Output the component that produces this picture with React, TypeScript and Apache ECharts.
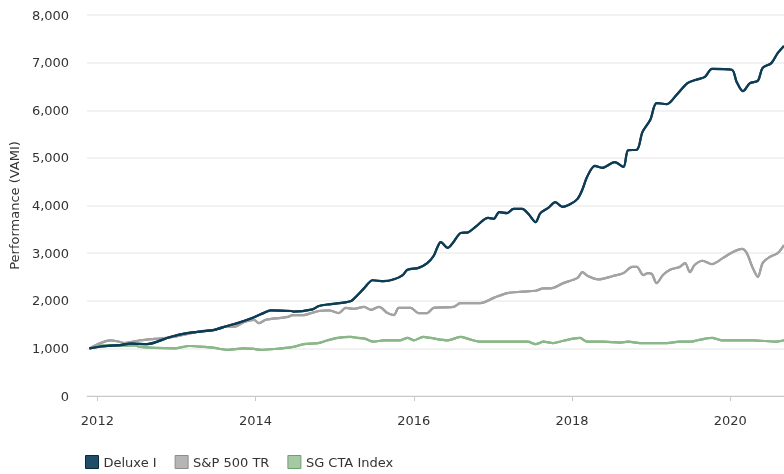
import React, { useEffect, useRef } from "react";
import * as echarts from "echarts";

const seriesNames = ["Deluxe I", "S&P 500 TR", "SG CTA Index"];
const yearTicks = [2012, 2014, 2016, 2018, 2020];

// [decimal year, VAMI]
const deluxe: [number, number][] = [
  [2011.9, 1000], [2012.05, 1040], [2012.29, 1070], [2012.42, 1100], [2012.63, 1090],
  [2012.92, 1240], [2013.13, 1320], [2013.48, 1390], [2013.64, 1470], [2013.77, 1530],
  [2013.93, 1620], [2014.1, 1740], [2014.19, 1800], [2014.45, 1785], [2014.48, 1770],
  [2014.72, 1820], [2014.8, 1890], [2014.95, 1930], [2015.2, 1990], [2015.29, 2120],
  [2015.37, 2260], [2015.48, 2430], [2015.62, 2410], [2015.75, 2450], [2015.86, 2540],
  [2015.92, 2650], [2016.06, 2690], [2016.17, 2790], [2016.25, 2940], [2016.3, 3130],
  [2016.34, 3230], [2016.43, 3110], [2016.5, 3230], [2016.59, 3420], [2016.69, 3440],
  [2016.78, 3550], [2016.94, 3740], [2017.01, 3720], [2017.08, 3860], [2017.18, 3840],
  [2017.26, 3930], [2017.37, 3930], [2017.45, 3820], [2017.54, 3650], [2017.6, 3840],
  [2017.7, 3950], [2017.79, 4070], [2017.88, 3970], [2017.98, 4030], [2018.07, 4140],
  [2018.13, 4330], [2018.19, 4600], [2018.29, 4830], [2018.38, 4790], [2018.54, 4910],
  [2018.65, 4810], [2018.71, 5160], [2018.82, 5170], [2018.89, 5540], [2018.99, 5800],
  [2019.07, 6150], [2019.2, 6130], [2019.32, 6320], [2019.46, 6570], [2019.57, 6640],
  [2019.68, 6700], [2019.77, 6870], [2020.02, 6850], [2020.08, 6600], [2020.16, 6400],
  [2020.25, 6570], [2020.35, 6620], [2020.41, 6890], [2020.52, 6990], [2020.6, 7200],
  [2020.68, 7350],
];

const sp500: [number, number][] = [
  [2011.9, 1000], [2012.04, 1110], [2012.16, 1170], [2012.25, 1150], [2012.34, 1110],
  [2012.42, 1130], [2012.54, 1170], [2012.72, 1200], [2012.88, 1220], [2013.13, 1300],
  [2013.35, 1370], [2013.48, 1390], [2013.6, 1450], [2013.73, 1450], [2013.85, 1550],
  [2013.98, 1600], [2014.04, 1530], [2014.13, 1600], [2014.32, 1640], [2014.41, 1660],
  [2014.47, 1700], [2014.61, 1700], [2014.7, 1740], [2014.82, 1790], [2014.93, 1800],
  [2015.05, 1740], [2015.14, 1850], [2015.24, 1830], [2015.37, 1870], [2015.46, 1810],
  [2015.56, 1870], [2015.67, 1740], [2015.75, 1700], [2015.81, 1850], [2015.96, 1850],
  [2016.06, 1740], [2016.17, 1740], [2016.25, 1850], [2016.5, 1870], [2016.59, 1950],
  [2016.84, 1950], [2017.01, 2060], [2017.18, 2160], [2017.37, 2190], [2017.54, 2210],
  [2017.64, 2260], [2017.73, 2260], [2017.89, 2370], [2018.07, 2480], [2018.13, 2600],
  [2018.2, 2520], [2018.33, 2450], [2018.52, 2520], [2018.65, 2580], [2018.76, 2710],
  [2018.82, 2710], [2018.9, 2540], [2018.96, 2580], [2019.01, 2560], [2019.07, 2370],
  [2019.15, 2540], [2019.24, 2650], [2019.36, 2710], [2019.43, 2790], [2019.49, 2600],
  [2019.55, 2750], [2019.65, 2840], [2019.77, 2770], [2019.91, 2900], [2020.03, 3020],
  [2020.15, 3090], [2020.21, 3000], [2020.28, 2710], [2020.35, 2500], [2020.41, 2790],
  [2020.5, 2920], [2020.6, 3000], [2020.68, 3170],
];

const sgCta: [number, number][] = [
  [2011.9, 1000], [2012.13, 1070], [2012.34, 1050], [2012.47, 1060], [2012.54, 1030],
  [2012.72, 1010], [2012.97, 1000], [2013.17, 1050], [2013.35, 1030], [2013.48, 1010],
  [2013.64, 970], [2013.85, 1000], [2013.98, 990], [2014.06, 970], [2014.32, 1000],
  [2014.48, 1030], [2014.61, 1090], [2014.79, 1110], [2014.91, 1170], [2015.04, 1220],
  [2015.2, 1240], [2015.29, 1220], [2015.39, 1200], [2015.49, 1140], [2015.62, 1170],
  [2015.83, 1170], [2015.92, 1220], [2016.0, 1170], [2016.12, 1240], [2016.21, 1220],
  [2016.43, 1170], [2016.59, 1240], [2016.69, 1200], [2016.84, 1140], [2017.13, 1140],
  [2017.44, 1140], [2017.54, 1090], [2017.64, 1140], [2017.76, 1110], [2017.89, 1160],
  [2018.1, 1220], [2018.19, 1140], [2018.39, 1140], [2018.61, 1120], [2018.71, 1140],
  [2018.86, 1110], [2019.2, 1110], [2019.36, 1140], [2019.49, 1140], [2019.59, 1170],
  [2019.77, 1220], [2019.89, 1170], [2020.28, 1170], [2020.59, 1140], [2020.68, 1170],
];

const colors = ["#0f3d57", "#a3a3a3", "#8ab889"];
const borderColors = ["#0a2a3c", "#8c8c8c", "#6f9f6e"];
const legendFill = ["#1f4f68", "#b5b5b5", "#a6c8a4"];

const FONT = "Verdana, 'DejaVu Sans', sans-serif";

export default function App() {
  const ref = useRef<HTMLDivElement>(null);
  useEffect(() => {
    if (!ref.current) return;
    const chart = echarts.init(ref.current, undefined, { renderer: "svg" });
    const dataSets = [deluxe, sp500, sgCta];
    chart.setOption({
      animation: false,
      textStyle: { fontFamily: FONT },
      grid: { left: 86, right: 0, top: 15, bottom: 78 },
      legend: {
        left: 85,
        bottom: 5,
        padding: 0,
        itemWidth: 13,
        itemHeight: 13,
        itemGap: 18,
        icon: "rect",
        textStyle: { fontFamily: FONT, fontSize: 13, color: "#333" },
        data: seriesNames.map((n, i) => ({
          name: n,
          itemStyle: { color: legendFill[i], borderColor: borderColors[i], borderWidth: 1 },
        })),
      },
      xAxis: {
        type: "value",
        min: 2011.87,
        max: 2020.68,
        splitLine: { show: false },
        axisLine: { lineStyle: { color: "#c8c8c8" } },
        axisTick: { show: true, length: 5, lineStyle: { color: "#c8c8c8" }, customValues: yearTicks },
        axisLabel: {
          customValues: yearTicks,
          formatter: (v: number) => String(Math.round(v)),
          fontFamily: FONT,
          fontSize: 13,
          color: "#333",
          margin: 18,
        },
      },
      yAxis: {
        type: "value",
        min: 0,
        max: 8000,
        interval: 1000,
        name: "Performance (VAMI)",
        nameLocation: "middle",
        nameGap: 60,
        nameTextStyle: { fontFamily: FONT, fontSize: 13, color: "#333" },
        axisLine: { show: false },
        axisTick: { show: false },
        splitLine: { lineStyle: { color: "#eeeeee", width: 1.5 } },
        axisLabel: {
          fontFamily: FONT,
          fontSize: 13,
          color: "#333",
          margin: 18,
          formatter: (v: number) => v.toLocaleString("en-US"),
        },
      },
      series: seriesNames.map((n, i) => ({
        name: n,
        type: "line",
        data: dataSets[i],
        showSymbol: false,
        smooth: 0.3,
        color: legendFill[i],
        z: 3 - i,
        lineStyle: {
          color: colors[i],
          width: 2.2,
          shadowColor: borderColors[i],
          shadowBlur: 1.5,
        },
      })),
    });
    return () => chart.dispose();
  }, []);
  return (
    <div
      ref={ref}
      style={{ position: "fixed", left: 0, top: 0, width: 784, height: 474 }}
    />
  );
}
